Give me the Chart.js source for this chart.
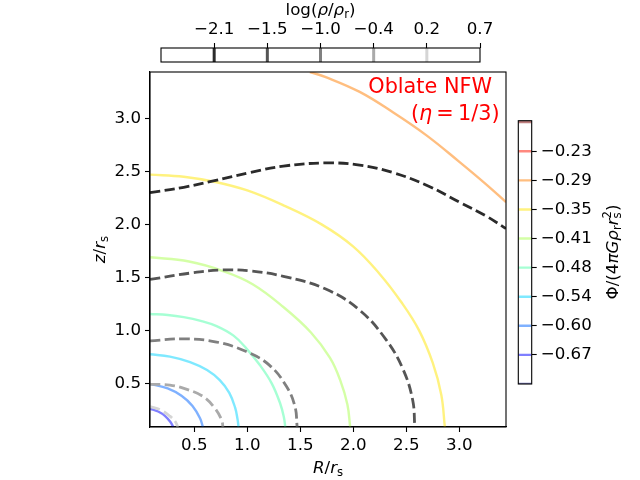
<!DOCTYPE html>
<html>
<head>
<meta charset="utf-8">
<script src="https://cdn.jsdelivr.net/npm/chart.js@4.4.1/dist/chart.umd.min.js"></script>
<style>
body { margin: 0; background: #fff; }
#wrap { position: relative; width: 640px; height: 480px; }
#wrap canvas { position: absolute; }
</style>
</head>
<body>
<div id="wrap">
  <canvas id="main" width="640" height="480" style="left:0;top:0"></canvas>
  <canvas id="rhoBar" width="640" height="66" style="left:0;top:0"></canvas>
  <canvas id="phiBar" width="140" height="300" style="left:500px;top:100px"></canvas>
</div>
<script>
// axis ticks of the main panel
const axisTicks = [0.5, 1.0, 1.5, 2.0, 2.5, 3.0];

// potential contours, Phi/(4 pi G rho_r r_s^2)
const phiLevels = [-0.67, -0.60, -0.54, -0.48, -0.41, -0.35, -0.29, -0.23];
const phiR = [
    [0.082, 0.159, 0.225, 0.275, 0.301],
    [0.082, 0.249, 0.379, 0.483, 0.554, 0.581],
    [0.082, 0.27, 0.46, 0.62, 0.74, 0.83, 0.885, 0.908, 0.917],
    [0.082, 0.25, 0.4, 0.56, 0.71, 0.87, 0.99, 1.12, 1.23, 1.31, 1.345, 1.358],
    [0.082, 0.45, 0.77, 1.05, 1.34, 1.6, 1.78, 1.876, 1.944, 1.97],
    [0.082, 0.4, 0.7, 1.0, 1.34, 1.7, 2.0, 2.25, 2.45, 2.62, 2.75, 2.83, 2.863],
    [1.59, 1.74, 2.06, 2.37, 2.69, 3.0, 3.25, 3.44]
];
const phiZ = [
    [0.261, 0.234, 0.191, 0.135, 0.088],
    [0.495, 0.453, 0.383, 0.287, 0.171, 0.088],
    [0.774, 0.752, 0.70, 0.625, 0.53, 0.41, 0.27, 0.16, 0.088],
    [1.154, 1.145, 1.125, 1.09, 1.04, 0.95, 0.83, 0.67, 0.5, 0.31, 0.18, 0.088],
    [1.69, 1.65, 1.56, 1.435, 1.22, 0.98, 0.74, 0.53, 0.3, 0.088],
    [2.47, 2.45, 2.40, 2.32, 2.18, 2.0, 1.79, 1.53, 1.27, 1.0, 0.69, 0.39, 0.088],
    [3.438, 3.39, 3.25, 3.06, 2.84, 2.59, 2.38, 2.21]
];
// jet colormap at half opacity; first and last are the colorbar ends
const phiColors = [
    'rgba(0,0,128,0.5)', 'rgba(0,0,255,0.5)', 'rgba(0,100,255,0.5)', 'rgba(0,212,255,0.5)',
    'rgba(77,255,170,0.5)', 'rgba(170,255,77,0.5)', 'rgba(255,230,0,0.5)',
    'rgba(255,125,0,0.5)', 'rgba(255,20,0,0.5)', 'rgba(128,0,0,0.5)'
];

// density contours, log(rho/rho_r)
const rhoLevels = [-2.1, -1.5, -1.0, -0.4, 0.2, 0.7];
const rhoR = [
    [0.082, 0.4, 0.68, 1.03, 1.34, 1.74, 2.06, 2.37, 2.69, 3.0, 3.25, 3.44],
    [0.082, 0.46, 0.77, 1.03, 1.34, 1.74, 2.06, 2.31, 2.47, 2.56, 2.58],
    [0.082, 0.40, 0.71, 0.99, 1.21, 1.37, 1.45, 1.47],
    [0.082, 0.27, 0.43, 0.585, 0.695, 0.758, 0.77],
    [0.082, 0.18, 0.27, 0.32, 0.345]
];
const rhoZ = [
    [2.30, 2.35, 2.41, 2.49, 2.55, 2.58, 2.56, 2.49, 2.37, 2.21, 2.08, 1.96],
    [1.48, 1.54, 1.57, 1.56, 1.51, 1.39, 1.19, 0.91, 0.63, 0.34, 0.088],
    [0.90, 0.92, 0.89, 0.80, 0.67, 0.47, 0.28, 0.088],
    [0.49, 0.484, 0.443, 0.374, 0.264, 0.154, 0.088],
    [0.28, 0.25, 0.19, 0.14, 0.088]
];
const rhoColors = ['#2b2b2b', '#555555', '#808080', '#aaaaaa', '#d5d5d5', '#ffffff'];

const FONT = '"DejaVu Sans", sans-serif';
const TICK_FONT = { family: FONT, size: 16.67 };

function fmt(v, d) {
    const s = Math.abs(v).toFixed(d);
    return v < 0 ? '\u2212' + s : s;
}

// small mathtext-ish writer: [text, flags] with i=italic, b=subscript, p=superscript, k=stack on previous
function drawMath(ctx, parts, x, y, size, align, angle) {
    const items = parts.map(([t, f = '']) => {
        const small = f.includes('b') || f.includes('p');
        const sz = small ? size * 0.7 : size;
        const font = (f.includes('i') ? 'italic ' : '') + sz.toFixed(2) + 'px ' + FONT;
        ctx.font = font;
        return { t, f, font, w: ctx.measureText(t).width,
            dy: f.includes('b') ? size * 0.2 : f.includes('p') ? -size * 0.42 : 0 };
    });
    let pos = 0, prev = 0;
    items.forEach(it => {
        if (it.f.includes('k')) { it.x = prev; pos = Math.max(pos, prev + it.w); }
        else { it.x = pos; prev = pos; pos += it.w; }
    });
    const x0 = align === 'center' ? -pos / 2 : align === 'right' ? -pos : 0;
    ctx.save();
    ctx.translate(x, y);
    if (angle) ctx.rotate(angle);
    ctx.textAlign = 'left';
    ctx.textBaseline = 'alphabetic';
    items.forEach(it => { ctx.font = it.font; ctx.fillText(it.t, x0 + it.x, it.dy); });
    ctx.restore();
}

const boxPlugin = {
    id: 'box',
    afterDraw(chart) {
        const { ctx, chartArea: a } = chart;
        ctx.save();
        ctx.strokeStyle = '#000';
        ctx.lineWidth = 1.1;
        ctx.strokeRect(a.left, a.top, a.right - a.left, a.bottom - a.top);
        ctx.restore();
    }
};

const labelPlugin = {
    id: 'labels',
    afterDraw(chart) {
        const ctx = chart.ctx;
        ctx.save();
        ctx.fillStyle = '#000';
        drawMath(ctx, [['R', 'i'], ['/'], ['r', 'i'], ['s', 'b']], 328, 473, 16.67, 'center');
        drawMath(ctx, [['z', 'i'], ['/'], ['r', 'i'], ['s', 'b']], 105, 249.5, 16.67, 'center', -Math.PI / 2);
        drawMath(ctx, [['log('], ['\u03C1', 'i'], ['/'], ['\u03C1', 'i'], ['r', 'b'], [')']], 320.5, 15, 16.67, 'center');
        drawMath(ctx, [['\u03A6/(4'], ['\u03C0', 'i'], ['G', 'i'], ['\u03C1', 'i'], ['r', 'b'], ['r', 'i'], ['s', 'b'], ['2', 'pk'], [')']],
            618, 252, 16.67, 'center', -Math.PI / 2);
        ctx.fillStyle = '#ff0000';
        drawMath(ctx, [['Oblate NFW']], 492, 92.5, 20.8, 'right');
        drawMath(ctx, [['('], ['\u03B7', 'i'], ['\u2009=\u2009'], ['1/3)']], 499.5, 119.5, 20.8, 'right');
        ctx.restore();
    }
};

const baseOptions = {
    responsive: false,
    animation: false,
    devicePixelRatio: 1,
    plugins: { legend: { display: false }, tooltip: { enabled: false } },
    elements: { point: { radius: 0 } }
};

// main panel: solid potential contours under dashed density contours
const datasets = [];
rhoR.forEach((R, j) => {
    datasets.push({
        data: R.map((r, k) => ({ x: r, y: rhoZ[j][k] })),
        showLine: true, borderColor: rhoColors[j], borderWidth: 2.8,
        borderDash: [10.3, 4.4], tension: 0.4, order: 0
    });
});
phiR.forEach((R, i) => {
    datasets.push({
        data: R.map((r, k) => ({ x: r, y: phiZ[i][k] })),
        showLine: true, borderColor: phiColors[i + 1], borderWidth: 2.4,
        tension: 0.4, order: 1
    });
});

function axisOpts(pos, min, max, fit) {
    return {
        type: 'linear', position: pos, min, max,
        afterBuildTicks: s => { s.ticks = axisTicks.map(v => ({ value: v })); },
        afterFit: fit,
        ticks: { font: TICK_FONT, color: '#000', padding: 4, autoSkip: false, maxRotation: 0,
            callback: v => v.toFixed(1) },
        grid: { drawOnChartArea: false, tickLength: 5, tickColor: '#000', tickWidth: 1.1 },
        border: { color: '#000', width: 1.1 }
    };
}

new Chart(document.getElementById('main'), {
    type: 'scatter',
    data: { datasets },
    options: Object.assign({}, baseOptions, {
        layout: { padding: { left: 0, right: 134, top: 72, bottom: 0 } },
        scales: {
            x: axisOpts('bottom', 0.082, 3.44, s => { s.height = 53; }),
            y: axisOpts('left', 0.088, 3.438, s => { s.width = 150; })
        }
    }),
    plugins: [boxPlugin, labelPlugin]
});

// top colorbar: density levels, evenly spaced by level index
new Chart(document.getElementById('rhoBar'), {
    type: 'scatter',
    data: {
        datasets: rhoLevels.map((lv, i) => ({
            data: [{ x: i + 1, y: 0 }, { x: i + 1, y: 1 }],
            showLine: true, borderColor: rhoColors[i], borderWidth: 3
        }))
    },
    options: Object.assign({}, baseOptions, {
        layout: { padding: { left: 161, right: 160, top: 0, bottom: 4 } },
        scales: {
            x: {
                type: 'linear', position: 'top', min: 0, max: rhoLevels.length,
                afterBuildTicks: s => { s.ticks = rhoLevels.map((v, i) => ({ value: i + 1 })); },
                afterFit: s => { s.height = 48; },
                ticks: { font: TICK_FONT, color: '#000', padding: 3, autoSkip: false, maxRotation: 0,
                    callback: v => fmt(rhoLevels[v - 1], 1) },
                grid: { drawOnChartArea: false, tickLength: 5, tickColor: '#000', tickWidth: 1.1 },
                border: { display: false }
            },
            y: { display: false, min: 0, max: 1 }
        }
    }),
    plugins: [boxPlugin]
});

// right colorbar: potential levels, evenly spaced by level index
const phiBarSets = phiColors.map((c, i) => ({
    data: [{ x: 0, y: i }, { x: 1, y: i }],
    showLine: true, borderColor: c, borderWidth: 2.4
}));
new Chart(document.getElementById('phiBar'), {
    type: 'scatter',
    data: { datasets: phiBarSets },
    options: Object.assign({}, baseOptions, {
        layout: { padding: { left: 18.3, right: 0, top: 20.7, bottom: 16 } },
        scales: {
            x: { display: false, min: 0, max: 1 },
            y: {
                type: 'linear', position: 'right', min: 0, max: phiLevels.length + 1.05,
                afterBuildTicks: s => { s.ticks = phiLevels.map((v, i) => ({ value: i + 1 })); },
                afterFit: s => { s.width = 108.3; },
                ticks: { font: TICK_FONT, color: '#000', padding: 4, autoSkip: false,
                    callback: v => fmt(phiLevels[v - 1], 2) },
                grid: { drawOnChartArea: false, tickLength: 5, tickColor: '#000', tickWidth: 1.1 },
                border: { display: false }
            }
        }
    }),
    plugins: [boxPlugin]
});
</script>
</body>
</html>
